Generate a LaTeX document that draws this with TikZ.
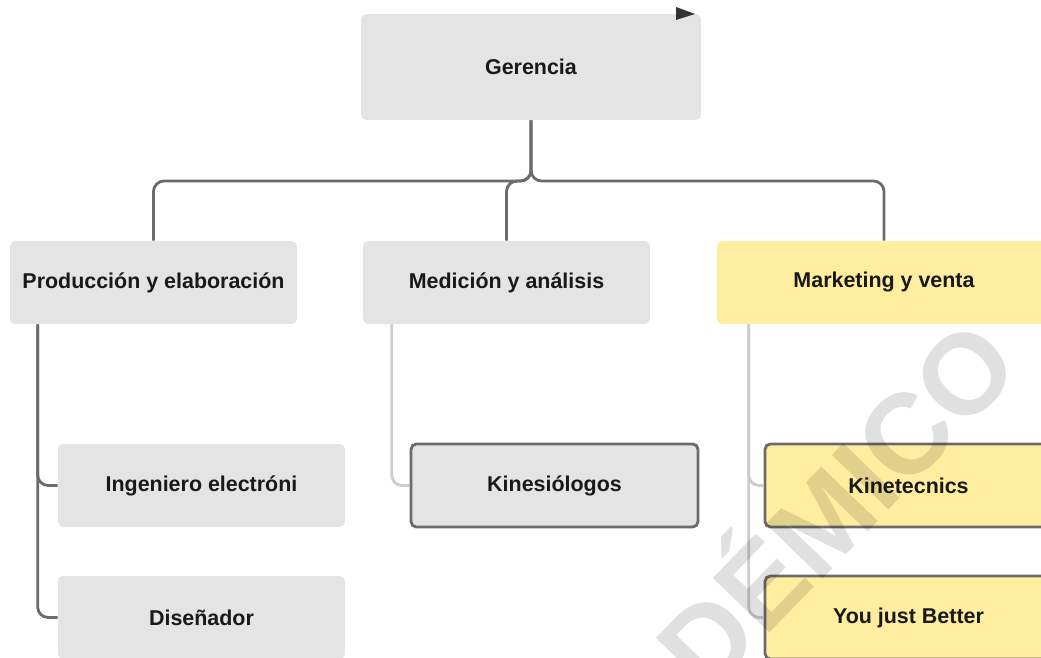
\documentclass[tikz,border=0pt]{standalone}
\usepackage{fontspec}
\setmainfont{Liberation Sans}
\definecolor{boxgray}{HTML}{E4E4E4}
\definecolor{boxyellow}{HTML}{FFEDA0}
\definecolor{linedark}{HTML}{6B6B6B}
\definecolor{linelight}{HTML}{CCCCCC}
\begin{document}
\begin{tikzpicture}[x=0.02cm,y=-0.02cm,
    unit/.style={rounded corners=3pt,fill=boxgray,minimum width=5.74cm,minimum height=1.66cm,
        font=\fontsize{12.2}{14}\selectfont\bfseries,text=black!90},
    yellowunit/.style={unit,fill=boxyellow},
    framed/.style={draw=linedark,line width=1.6pt},
    conn/.style={draw=linedark,line width=1.6pt,rounded corners=6pt},
    lightconn/.style={draw=linelight,line width=1.6pt,rounded corners=6pt}]
    \useasboundingbox (0,0) rectangle (1041,658);
    \clip (0,0) rectangle (1041,658);
    % cajas
    \node[unit,minimum width=6.8cm,minimum height=2.12cm] (ger) at (531,67) {Gerencia};
    \node[unit] (prod) at (153.5,282.5) {Producción y elaboración};
    \node[unit] (med) at (506.5,282.5) {Medición y análisis};
    \node[yellowunit,minimum width=6.68cm] (mkt) at (884,282.5) {Marketing y venta};
    \node[unit] (ing) at (201.5,485.5) {Ingeniero electróni};
    \node[unit] (dis) at (201.5,617.5) {Diseñador};
    \node[unit,framed] (kin) at (554.5,485.5) {Kinesiólogos};
    \node[yellowunit,framed] (ktc) at (908.5,485.5) {Kinetecnics};
    \node[yellowunit,framed] (yjb) at (908.5,617.5) {You just Better};
    % lineas
    \coordinate (split) at (531,181);
    \draw[conn] (ger.south) -- (split) -| (prod.north);
    \draw[conn] (ger.south) -- (split) -| (med.north);
    \draw[conn] (ger.south) -- (split) -| (mkt.north);
    \draw[conn] ([xshift=0.56cm]prod.south west) |- (ing.west);
    \draw[conn] ([xshift=0.56cm]prod.south west) |- (dis.west);
    \draw[lightconn] ([xshift=0.58cm]med.south west) |- (kin.west);
    \draw[lightconn] ([xshift=0.64cm]mkt.south west) |- (ktc.west);
    \draw[lightconn] ([xshift=0.64cm]mkt.south west) |- (yjb.west);
    \fill[black!80] (676,7) -- (695,14) -- (676,20) -- cycle;
    % marca de agua
    \node[rotate=46,text=black,opacity=0.12,font=\fontsize{65}{75}\selectfont\bfseries] (marca) at (744,588) {ACADÉMICO};
\end{tikzpicture}
\end{document}
